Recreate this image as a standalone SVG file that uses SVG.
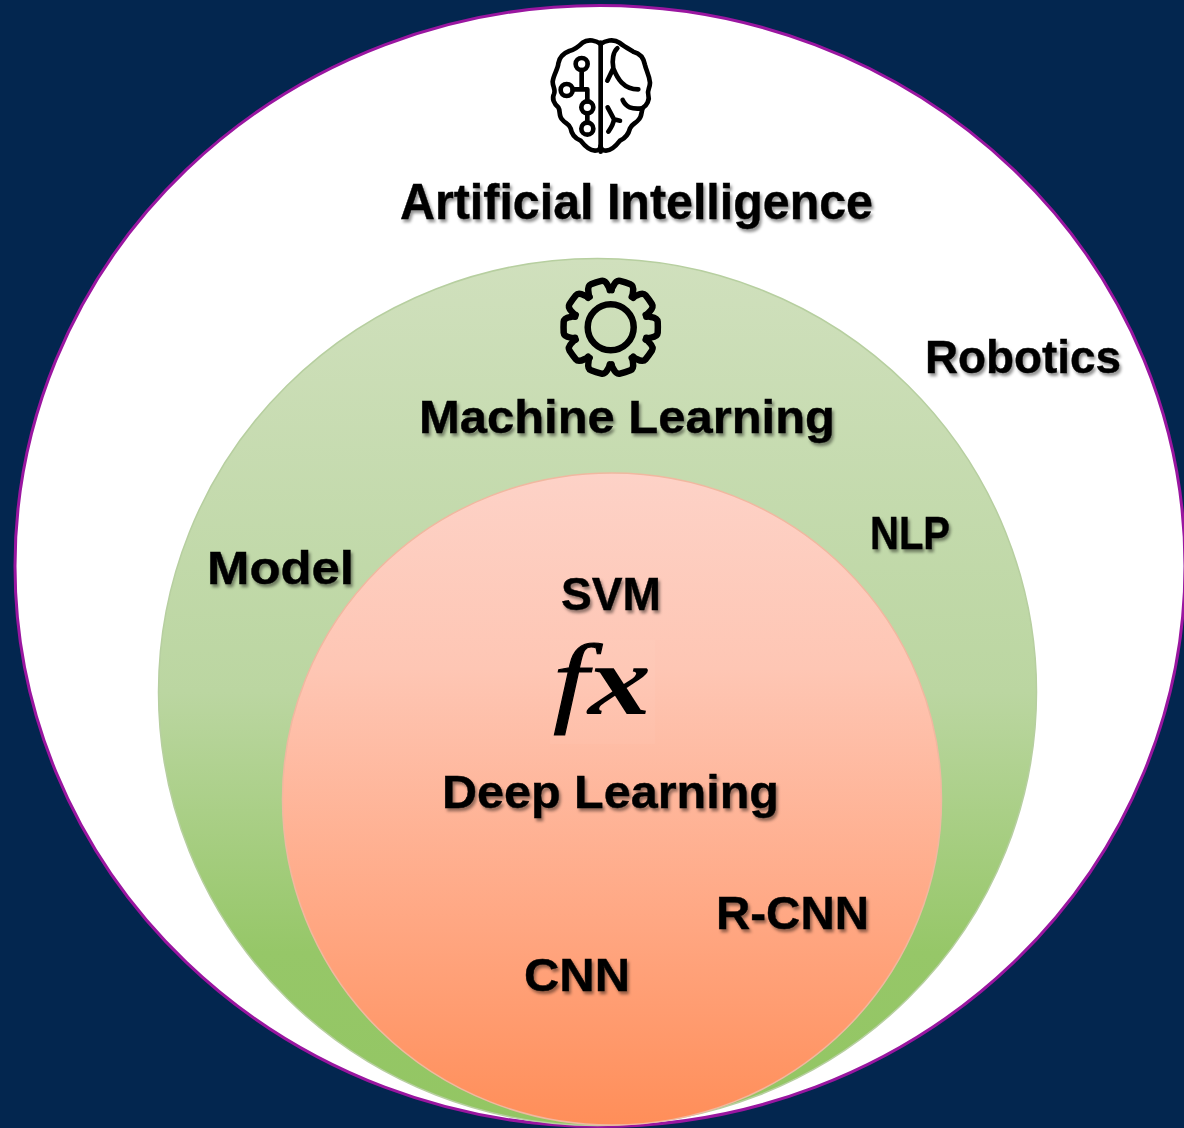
<svg xmlns="http://www.w3.org/2000/svg" xmlns:xlink="http://www.w3.org/1999/xlink" width="1184" height="1128" viewBox="0 0 1184 1128">
<style>
.t{font-family:"Liberation Sans",Arial,sans-serif;font-weight:700;fill:#000;stroke:#000;stroke-width:.4;filter:drop-shadow(2px 3px 1.5px rgba(0,0,0,.42))}
.i{fill:none;stroke:#000;stroke-linecap:round;stroke-linejoin:round}
</style>
<defs>
<linearGradient id="g" x1="0" y1="0" x2="0" y2="1"><stop offset="0" stop-color="#d0e0bd"/><stop offset=".5" stop-color="#bbd6a1"/><stop offset=".8" stop-color="#96c768"/><stop offset="1" stop-color="#93c663"/></linearGradient>
<linearGradient id="r" x1="0" y1="0" x2="0" y2="1"><stop offset="0" stop-color="#fdd2c7"/><stop offset=".3" stop-color="#fec6b4"/><stop offset=".7" stop-color="#ffa681"/><stop offset="1" stop-color="#ff8e59"/></linearGradient>
<filter id="b" x="-10%" y="-10%" width="120%" height="120%"><feGaussianBlur stdDeviation=".6"/></filter>
<path id="tooth" d="M-12.4,-35 C-9,-37 -12,-46.5 -5.5,-47 C-2,-47.2 2,-47.2 5.5,-47 C12,-46.5 9,-37 12.4,-35"/>
</defs>
<rect width="1184" height="1128" fill="#03264f"/>
<g id="artificial-intelligence">
<ellipse cx="600" cy="566" rx="585" ry="560.5" fill="#fff" stroke="#9a16a0" stroke-width="3"/>
<g class="i" filter="url(#b)" transform="translate(530 20) scale(.3333)" stroke-width="14">
<path d="M212,68V395"/>
<path d="M212,72C200,62 175,55 158,68C148,78 130,90 118,93C100,100 88,112 85,130C85,145 70,165 68,185C68,200 78,210 72,222C65,235 72,252 85,262C92,272 85,290 98,300C105,310 118,312 122,325C125,345 135,355 152,362C162,375 178,392 195,392C205,392 212,385 212,378"/>
<path d="M212,72C225,62 250,55 268,68C280,78 298,88 310,95C332,100 342,118 345,135C348,150 358,165 360,188C360,205 350,212 355,225C360,240 350,255 340,262C332,272 338,290 325,300C318,310 305,312 300,325C295,345 285,355 270,362C260,375 245,392 228,392C218,392 212,385 212,378"/>
<circle cx="155" cy="132" r="18"/><circle cx="110" cy="210" r="18"/><circle cx="172" cy="262" r="18"/><circle cx="172" cy="326" r="18"/>
<path d="M155,150V208H128M155,208H172V244M172,280V308"/>
<path d="M262,85C250,95 245,120 250,145L232,182M250,145C262,175 280,208 325,208"/>
<path d="M278,240C288,262 305,268 335,265"/>
<path d="M233,262C240,275 248,290 252,298L270,302M252,298C250,315 242,325 235,335"/>
</g>
<text class="t" x="400" y="219" font-size="50" textLength="473" lengthAdjust="spacingAndGlyphs">Artificial Intelligence</text>
<text class="t" x="925" y="373" font-size="46" textLength="196" lengthAdjust="spacingAndGlyphs">Robotics</text>
</g>
<g id="machine-learning">
<ellipse cx="597.5" cy="692" rx="439" ry="433.5" fill="url(#g)" stroke="#b7cfa0" stroke-width="1.5"/>
<g class="i" filter="url(#b)" transform="translate(610.7 327.3)" stroke-width="6.5">
<circle r="23"/>
<use xlink:href="#tooth" href="#tooth" transform="rotate(18)"/><use xlink:href="#tooth" href="#tooth" transform="rotate(54)"/><use xlink:href="#tooth" href="#tooth" transform="rotate(90)"/><use xlink:href="#tooth" href="#tooth" transform="rotate(126)"/><use xlink:href="#tooth" href="#tooth" transform="rotate(162)"/><use xlink:href="#tooth" href="#tooth" transform="rotate(198)"/><use xlink:href="#tooth" href="#tooth" transform="rotate(234)"/><use xlink:href="#tooth" href="#tooth" transform="rotate(270)"/><use xlink:href="#tooth" href="#tooth" transform="rotate(306)"/><use xlink:href="#tooth" href="#tooth" transform="rotate(342)"/>
</g>
<text class="t" x="419" y="433" font-size="46" textLength="416" lengthAdjust="spacingAndGlyphs">Machine Learning</text>
<text class="t" x="207" y="584" font-size="46" textLength="147" lengthAdjust="spacingAndGlyphs">Model</text>
<text class="t" x="870" y="549" font-size="46" textLength="80" lengthAdjust="spacingAndGlyphs">NLP</text>
</g>
<g id="deep-learning">
<ellipse cx="612" cy="799" rx="329.5" ry="326" fill="url(#r)" stroke="#f0b8a0" stroke-width="1.5"/>
<rect x="550" y="640" width="105" height="104" fill="#fff" opacity=".04"/>
<text x="553" y="714" font-family="'Liberation Serif','Times New Roman',serif" font-style="italic" font-size="100" fill="#000" stroke="#000" stroke-width="1" textLength="98" lengthAdjust="spacingAndGlyphs">f<tspan font-weight="700" stroke-width="0">x</tspan></text>
<text class="t" x="561" y="610" font-size="46" textLength="100" lengthAdjust="spacingAndGlyphs">SVM</text>
<text class="t" x="442" y="808" font-size="46" textLength="337" lengthAdjust="spacingAndGlyphs">Deep Learning</text>
<text class="t" x="716" y="929" font-size="46" textLength="153" lengthAdjust="spacingAndGlyphs">R-CNN</text>
<text class="t" x="524" y="991" font-size="46" textLength="106" lengthAdjust="spacingAndGlyphs">CNN</text>
</g>
</svg>
